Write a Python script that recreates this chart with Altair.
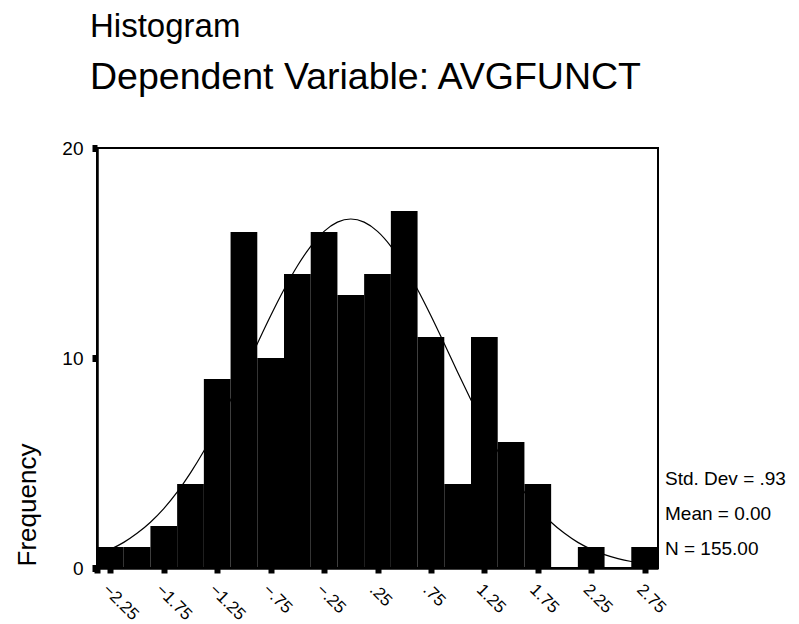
import altair as alt
import pandas as pd

# Histogram bins (width .25, labelled by bin midpoint)
bin_start = [-2.375, -2.125, -1.875, -1.625, -1.375, -1.125, -0.875, -0.625, -0.375, -0.125,
             0.125, 0.375, 0.625, 0.875, 1.125, 1.375, 1.625, 1.875, 2.125, 2.375, 2.625]
bin_end = [-2.125, -1.875, -1.625, -1.375, -1.125, -0.875, -0.625, -0.375, -0.125, 0.125,
           0.375, 0.625, 0.875, 1.125, 1.375, 1.625, 1.875, 2.125, 2.375, 2.625, 2.875]
counts = [1, 1, 2, 4, 9, 16, 10, 14, 16, 13, 14, 17, 11, 4, 11, 6, 4, 0, 1, 0, 1]

# Normal curve
curve_x = [-2.375, -2.25, -2.125, -2.0, -1.875, -1.75, -1.625, -1.5, -1.375, -1.25, -1.125,
           -1.0, -0.875, -0.75, -0.625, -0.5, -0.375, -0.25, -0.125, 0.0, 0.125, 0.25,
           0.375, 0.5, 0.625, 0.75, 0.875, 1.0, 1.125, 1.25, 1.375, 1.5, 1.625, 1.75,
           1.875, 2.0, 2.125, 2.25, 2.375, 2.5, 2.625, 2.75, 2.875]
curve_y = [0.64, 0.89, 1.22, 1.65, 2.18, 2.83, 3.61, 4.53, 5.57, 6.73, 8.00,
           9.32, 10.68, 12.01, 13.26, 14.38, 15.32, 16.03, 16.47, 16.62, 16.47, 16.03,
           15.32, 14.38, 13.26, 12.01, 10.68, 9.32, 8.00, 6.73, 5.57, 4.53, 3.61, 2.83,
           2.18, 1.65, 1.22, 0.89, 0.64, 0.45, 0.31, 0.21, 0.14]

x_ticks = [-2.375, -2.25, -1.75, -1.25, -0.75, -0.25, 0.25, 0.75, 1.25, 1.75, 2.25, 2.75]
y_ticks = [0, 10, 20]

title_text = "Histogram"
subtitle_text = "Dependent Variable: AVGFUNCT"
y_title = "Frequency"
stats = ["Std. Dev = .93", "Mean = 0.00", "N = 155.00"]

FONT = "Liberation Sans"

bars_df = pd.DataFrame({"start": bin_start, "end": bin_end, "count": counts})
curve_df = pd.DataFrame({"x": curve_x, "y": curve_y})

xscale = alt.Scale(domain=[-2.375, 2.875], nice=False, zero=False)
yscale = alt.Scale(domain=[0, 20], nice=False)

bars = alt.Chart(bars_df).mark_rect(color="black").encode(
    x=alt.X("start:Q", scale=xscale, title=None,
            axis=alt.Axis(values=x_ticks, labelExpr="datum.value == -2.375 ? '' : replace(format(datum.value, '.2f'), '0.', '.')",
                          labelAngle=45, labelAlign="left", labelBaseline="top",
                          labelFont=FONT, labelFontSize=17, labelColor="black",
                          labelPadding=8, tickSize=5, tickWidth=6, tickColor="black",
                          domainColor="black", domainWidth=2.5, grid=False,
                          labelOverlap=False, labelFlush=False)),
    x2="end:Q",
    y=alt.Y("count:Q", scale=yscale, title=None,
            axis=alt.Axis(values=y_ticks, labelFont=FONT, labelFontSize=19, labelColor="black",
                          labelPadding=9, tickSize=5, tickWidth=7, tickColor="black",
                          domainColor="black", domainWidth=2.5, grid=False)),
    y2=alt.datum(0),
)

curve = alt.Chart(curve_df).mark_line(color="black", strokeWidth=1.2, interpolate="monotone").encode(
    x=alt.X("x:Q", scale=xscale),
    y=alt.Y("y:Q", scale=yscale),
)

def label(text, x, y, size, angle=0, align="left", weight="normal"):
    return alt.Chart(pd.DataFrame({"t": [text]})).mark_text(
        font=FONT, fontSize=size, color="black", align=align, baseline="alphabetic",
        angle=angle, fontWeight=weight
    ).encode(text="t:N", x=alt.value(x), y=alt.value(y))

texts = [
    label(title_text, -7, -111, 33),
    label(subtitle_text, -7, -59, 37.5),
    label(y_title, -61, 357, 26, angle=270, align="center"),
    label(stats[0], 568, 337, 19),
    label(stats[1], 568, 372, 19),
    label(stats[2], 568, 407, 19),
]

chart = alt.layer(bars, curve, *texts).properties(
    width=561, height=420,
    background="white",
    autosize=alt.AutoSizeParams(type="none"),
    padding={"left": 89, "top": 140, "right": 133, "bottom": 62},
).configure_view(stroke="black", strokeWidth=2)

chart.save("out.html", embed_options={"renderer": "svg", "actions": False})
